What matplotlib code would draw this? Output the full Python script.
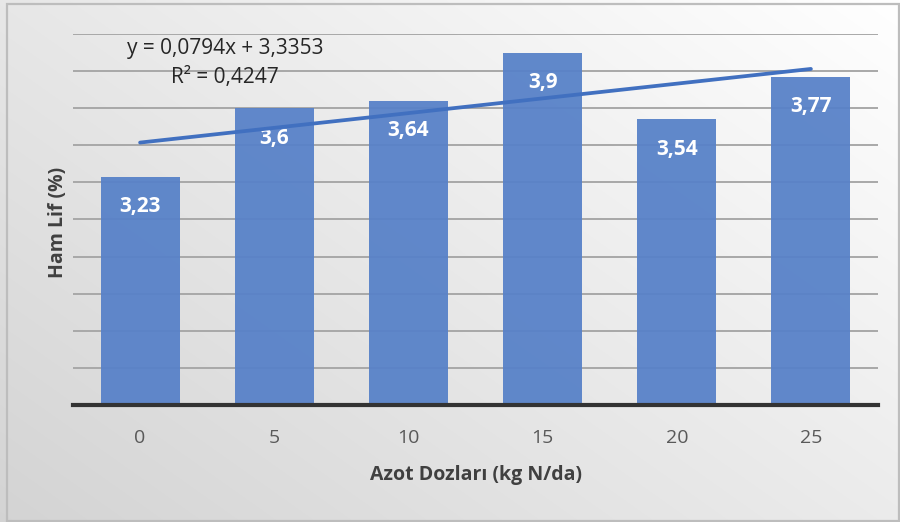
import numpy as np
import matplotlib.pyplot as plt
from matplotlib.patches import Rectangle

# Data
doses = ["0", "5", "10", "15", "20", "25"]
ham_lif = [3.23, 3.60, 3.64, 3.90, 3.54, 3.77]
value_labels = ["3,23", "3,6", "3,64", "3,9", "3,54", "3,77"]
trend_slope = 0.0794
trend_intercept = 3.3353
trend_r2 = 0.4247

bar_color = "#5781C8"
trend_color = "#4170C0"
font = "Open Sans"

fig = plt.figure(figsize=(9.0, 5.22), dpi=100)

# Gradient chart-area background (light top-right to gray bottom-left)
bg = fig.add_axes([0, 0, 1, 1], zorder=0)
h, w = 261, 450
yy, xx = np.mgrid[0:h, 0:w]
t = ((w - 1 - xx) / (w - 1) * 0.55 + yy / (h - 1) * 0.45)
shade = 1.0 - 0.17 * t
bg.imshow(np.dstack([shade, shade, shade]), extent=[0, 1, 0, 1],
          aspect="auto", origin="upper", interpolation="bilinear")
bg.set_xlim(0, 1)
bg.set_ylim(0, 1)
bg.axis("off")
bg.add_patch(Rectangle((7 / 900, 1 / 522), 892 / 900, 517 / 522,
                       fill=False, edgecolor="#BDBDBD", lw=1.6,
                       transform=bg.transAxes))

ax = fig.add_axes([73 / 900, (522 - 405) / 522, 805 / 900, 371 / 522], zorder=1)
ax.set_facecolor("none")

x = np.arange(len(doses))
ax.set_xlim(-0.5, len(doses) - 0.5)
ax.set_ylim(2.0, 4.0)

# Horizontal gridlines
for gy in np.arange(2.2, 4.01, 0.2):
    ax.axhline(gy, color="#A8A8A8", lw=1.4, zorder=1)

ax.bar(x, [v - 2.0 for v in ham_lif], bottom=2.0, width=0.59,
       color=bar_color, alpha=0.94, zorder=2)

for xi, v, lab in zip(x, ham_lif, value_labels):
    ax.annotate(lab, (xi, v), xytext=(0, -21.5), textcoords="offset points",
                ha="center", va="center", color="white", fontsize=15,
                fontweight="bold", family=font, zorder=4)

# Linear trendline (Excel numbering x = 1..n)
trend_y = [trend_slope * (i + 1) + trend_intercept for i in x]
ax.plot(x, trend_y, color=trend_color, lw=2.7, solid_capstyle="round", zorder=5)

ax.text(0.633, 3.924, "y = 0,0794x + 3,3353", ha="center", va="center",
        fontsize=15, color="#262626", family=font, zorder=6)
ax.text(0.633, 3.768, "R² = 0,4247", ha="center", va="center",
        fontsize=15, color="#262626", family=font, zorder=6)

# Axis baseline
ax.axhline(2.0, color="#333333", lw=3.0, zorder=6, clip_on=False)

for s in ax.spines.values():
    s.set_visible(False)
ax.set_yticks([])
ax.set_xticks(x)
ax.set_xticklabels(doses, fontsize=14, color="#595959", family=font)
ax.tick_params(axis="x", length=0, pad=17.5)

ax.set_xlabel("Azot Dozları (kg N/da)", fontsize=14, fontweight="bold",
              color="#404040", family=font)
ax.xaxis.label.set_va("center")
ax.xaxis.set_label_coords(0.5006, -0.1887)
ax.set_ylabel("Ham Lif (%)", fontsize=14, fontweight="bold",
              color="#404040", family=font)
ax.yaxis.label.set_va("center")
ax.yaxis.set_label_coords(-0.0186, 0.493)

fig.savefig("out.png", dpi=100)
